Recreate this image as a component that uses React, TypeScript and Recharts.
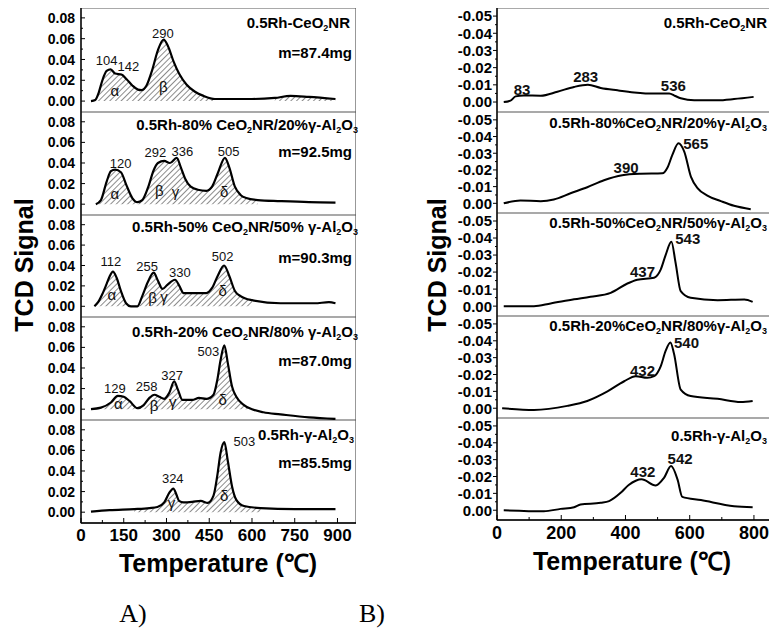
import React from 'react';
import { ComposedChart, Line, Area, XAxis, YAxis, ReferenceArea, ReferenceDot } from 'recharts';

const SANS = '"Liberation Sans", Arial, Helvetica, sans-serif';
const SERIF = '"Liberation Serif", "Times New Roman", serif';

// ---------- Panel A: temperature (°C) and TCD signal for each catalyst ----------
const aCeO2Temp = [35, 50, 62, 75, 90, 104, 120, 142, 160, 180, 200, 212, 230, 250, 270, 290, 305, 325, 345, 370, 400, 430, 470, 520, 600, 680, 735, 800, 893];
const aCeO2Signal = [0, 0.001, 0.008, 0.02, 0.029, 0.0305, 0.0265, 0.0255, 0.021, 0.015, 0.011, 0.0105, 0.015, 0.03, 0.049, 0.059, 0.053, 0.038, 0.026, 0.016, 0.009, 0.005, 0.002, 0.002, 0.002, 0.003, 0.005, 0.004, 0.002];

const a8020Temp = [52, 70, 90, 105, 120, 140, 160, 180, 198, 215, 235, 255, 270, 292, 312, 336, 350, 365, 385, 410, 440, 460, 480, 505, 520, 540, 560, 580, 620, 700, 800, 893];
const a8020Signal = [0, 0.004, 0.022, 0.032, 0.0335, 0.031, 0.018, 0.006, 0.002, 0.004, 0.016, 0.033, 0.04, 0.042, 0.04, 0.045, 0.036, 0.025, 0.017, 0.014, 0.013, 0.017, 0.03, 0.045, 0.036, 0.017, 0.009, 0.006, 0.004, 0.003, 0.002, 0.0016];

const a5050Temp = [47, 60, 75, 90, 100, 112, 125, 140, 158, 175, 198, 215, 235, 255, 270, 286, 303, 330, 345, 360, 400, 440, 460, 480, 502, 520, 540, 560, 600, 700, 820, 870, 893];
const a5050Signal = [0, 0.004, 0.012, 0.022, 0.029, 0.034, 0.028, 0.015, 0.003, 0, 0, 0.01, 0.024, 0.033, 0.025, 0.017, 0.021, 0.026, 0.02, 0.013, 0.013, 0.013, 0.018, 0.03, 0.04, 0.03, 0.015, 0.01, 0.006, 0.003, 0.003, 0.004, 0.003];

const a2080Temp = [35, 70, 105, 129, 150, 170, 198, 220, 240, 258, 275, 292, 310, 327, 340, 356, 390, 414, 440, 465, 478, 490, 503, 515, 530, 545, 572, 600, 640, 700, 800, 893];
const a2080Signal = [0, 0.0015, 0.0065, 0.013, 0.012, 0.008, 0.001, 0.004, 0.011, 0.014, 0.012, 0.01, 0.016, 0.027, 0.019, 0.009, 0.009, 0.011, 0.01, 0.014, 0.028, 0.048, 0.062, 0.045, 0.022, 0.012, 0.004, 0, -0.003, -0.005, -0.008, -0.0095];

const aAl2O3Temp = [35, 100, 187, 240, 268, 292, 310, 324, 335, 344, 360, 390, 420, 445, 465, 478, 490, 503, 515, 530, 545, 572, 630, 750, 893];
const aAl2O3Signal = [0.0005, 0.002, 0.003, 0.004, 0.005, 0.0095, 0.019, 0.023, 0.017, 0.011, 0.0095, 0.01, 0.011, 0.009, 0.016, 0.035, 0.058, 0.068, 0.05, 0.025, 0.012, 0.006, 0.004, 0.003, 0.003];

// hatched (deconvoluted) temperature windows
const aCeO2Hatch = [[35, 470], [680, 893]];
const a8020Hatch = [[52, 620]];
const a5050Hatch = [[47, 600]];
const a2080Hatch = [[35, 600]];
const aAl2O3Hatch = [[187, 630]];

type Note = { text: string; t: number; v: number };

// peak temperature labels
const aCeO2Peaks: Note[] = [{ text: '104', t: 90, v: 0.039 }, { text: '142', t: 166, v: 0.033 }, { text: '290', t: 287, v: 0.065 }];
const a8020Peaks: Note[] = [{ text: '120', t: 139, v: 0.0395 }, { text: '292', t: 261, v: 0.05 }, { text: '336', t: 356, v: 0.051 }, { text: '505', t: 518, v: 0.051 }];
const a5050Peaks: Note[] = [{ text: '112', t: 105, v: 0.044 }, { text: '255', t: 232, v: 0.039 }, { text: '330', t: 347, v: 0.033 }, { text: '502', t: 497, v: 0.049 }];
const a2080Peaks: Note[] = [{ text: '129', t: 119, v: 0.02 }, { text: '258', t: 230, v: 0.022 }, { text: '327', t: 320, v: 0.033 }, { text: '503', t: 447, v: 0.056 }];
const aAl2O3Peaks: Note[] = [{ text: '324', t: 322, v: 0.033 }, { text: '503', t: 573, v: 0.069 }];

// reduction-stage symbols
const aCeO2Phases: Note[] = [{ text: 'α', t: 119, v: 0.01 }, { text: 'β', t: 289, v: 0.014 }];
const a8020Phases: Note[] = [{ text: 'α', t: 119, v: 0.01 }, { text: 'β', t: 275, v: 0.013 }, { text: 'γ', t: 332, v: 0.012 }, { text: 'δ', t: 502, v: 0.012 }];
const a5050Phases: Note[] = [{ text: 'α', t: 108, v: 0.011 }, { text: 'β', t: 251, v: 0.009 }, { text: 'γ', t: 291, v: 0.0096 }, { text: 'δ', t: 497, v: 0.015 }];
const a2080Phases: Note[] = [{ text: 'α', t: 131, v: 0.005 }, { text: 'β', t: 256, v: 0.003 }, { text: 'γ', t: 322, v: 0.007 }, { text: 'δ', t: 497, v: 0.009 }];
const aAl2O3Phases: Note[] = [{ text: 'γ', t: 318, v: 0.0096 }, { text: 'δ', t: 502, v: 0.016 }];

// ---------- Panel B ----------
const bCeO2Temp = [21, 42, 58, 83, 136, 188, 240, 283, 323, 375, 427, 489, 536, 555, 572, 614, 687, 738, 799];
const bCeO2Signal = [0, -0.0008, -0.0033, -0.0038, -0.0037, -0.006, -0.0088, -0.01, -0.0082, -0.0068, -0.0056, -0.0049, -0.005, -0.0035, -0.0022, -0.001, -0.001, -0.0017, -0.003];

const b8020Temp = [21, 73, 136, 177, 229, 281, 333, 390, 447, 515, 531, 546, 565, 583, 604, 625, 655, 697, 738, 790];
const b8020Signal = [0, -0.0017, -0.0013, -0.0023, -0.006, -0.0096, -0.0138, -0.0168, -0.0177, -0.018, -0.0215, -0.029, -0.036, -0.031, -0.0158, -0.009, -0.0046, -0.0013, 0.0015, 0.0035];

const b5050Temp = [21, 115, 167, 240, 291, 354, 406, 437, 489, 510, 525, 543, 556, 572, 603, 687, 770, 796];
const b5050Signal = [0, 0, -0.0016, -0.004, -0.0055, -0.0078, -0.0133, -0.0155, -0.0167, -0.0216, -0.03, -0.0378, -0.0255, -0.0088, -0.0049, -0.0035, -0.0039, -0.0025];

const b2080Temp = [16, 115, 219, 281, 344, 396, 432, 468, 489, 510, 525, 540, 551, 572, 603, 687, 759, 796];
const b2080Signal = [0, 0.001, -0.0014, -0.0043, -0.01, -0.016, -0.019, -0.018, -0.019, -0.025, -0.034, -0.039, -0.0325, -0.011, -0.0072, -0.0056, -0.0037, -0.0043];

const bAl2O3Temp = [21, 146, 198, 240, 260, 323, 349, 385, 410, 432, 450, 494, 520, 542, 562, 577, 635, 738, 796];
const bAl2O3Signal = [0, 0.0006, -0.0008, -0.0018, -0.0034, -0.0044, -0.0054, -0.0103, -0.015, -0.0175, -0.0183, -0.0147, -0.0192, -0.0262, -0.0183, -0.0079, -0.006, -0.0024, -0.0018];

const bCeO2Peaks: Note[] = [{ text: '83', t: 78, v: -0.0071 }, { text: '283', t: 276, v: -0.0149 }, { text: '536', t: 549, v: -0.0095 }];
const b8020Peaks: Note[] = [{ text: '390', t: 402, v: -0.0215 }, { text: '565', t: 619, v: -0.036 }];
const b5050Peaks: Note[] = [{ text: '437', t: 453, v: -0.0202 }, { text: '543', t: 594, v: -0.0394 }];
const b2080Peaks: Note[] = [{ text: '432', t: 453, v: -0.0224 }, { text: '540', t: 590, v: -0.039 }];
const bAl2O3Peaks: Note[] = [{ text: '432', t: 454, v: -0.0228 }, { text: '542', t: 570, v: -0.0308 }];

// sample names ("_n" marks a subscript digit) and loaded masses
const sampleNames = ['0.5Rh-CeO_2NR', '0.5Rh-80% CeO_2NR/20%γ-Al_2O_3', '0.5Rh-50% CeO_2NR/50% γ-Al_2O_3', '0.5Rh-20% CeO_2NR/80% γ-Al_2O_3', '0.5Rh-γ-Al_2O_3'];
const sampleNamesB = ['0.5Rh-CeO_2NR', '0.5Rh-80%CeO_2NR/20%γ-Al_2O_3', '0.5Rh-50%CeO_2NR/50%γ-Al_2O_3', '0.5Rh-20%CeO_2NR/80%γ-Al_2O_3', '0.5Rh-γ-Al_2O_3'];
const sampleMasses = ['m=87.4mg', 'm=92.5mg', 'm=90.3mg', 'm=87.0mg', 'm=85.5mg'];

const aXTicks = [0, 75, 150, 225, 300, 375, 450, 525, 600, 675, 750, 825, 900];
const aYTicks = [0, 0.01, 0.02, 0.03, 0.04, 0.05, 0.06, 0.07, 0.08];
const bXTicks = [0, 100, 200, 300, 400, 500, 600, 700, 800];
const bYTicks = [0, -0.005, -0.01, -0.015, -0.02, -0.025, -0.03, -0.035, -0.04, -0.045, -0.05];

const seriesA = [
  { temp: aCeO2Temp, signal: aCeO2Signal, hatch: aCeO2Hatch, peaks: aCeO2Peaks, phases: aCeO2Phases },
  { temp: a8020Temp, signal: a8020Signal, hatch: a8020Hatch, peaks: a8020Peaks, phases: a8020Phases },
  { temp: a5050Temp, signal: a5050Signal, hatch: a5050Hatch, peaks: a5050Peaks, phases: a5050Phases },
  { temp: a2080Temp, signal: a2080Signal, hatch: a2080Hatch, peaks: a2080Peaks, phases: a2080Phases },
  { temp: aAl2O3Temp, signal: aAl2O3Signal, hatch: aAl2O3Hatch, peaks: aAl2O3Peaks, phases: aAl2O3Phases },
];
const seriesB = [
  { temp: bCeO2Temp, signal: bCeO2Signal, peaks: bCeO2Peaks },
  { temp: b8020Temp, signal: b8020Signal, peaks: b8020Peaks },
  { temp: b5050Temp, signal: b5050Signal, peaks: b5050Peaks },
  { temp: b2080Temp, signal: b2080Signal, peaks: b2080Peaks },
  { temp: bAl2O3Temp, signal: bAl2O3Signal, peaks: bAl2O3Peaks },
];

// ---------- layout ----------
const A_TOPS = [8, 112, 215, 317, 420, 523];
const A_LEFT = 81;
const A_W = 275;
const A_YW = 60;
const A_XH = 40;
const A_XDOM: [number, number] = [0, 965];
const A_YDOM: [number, number] = [-0.0105, 0.0895];
const A_NAME_RIGHT = [350, 358, 358, 358, 354];
const A_NAME_Y = [15, 13, 12, 15, 15];
const A_MASS_Y = [45, 40, 43, 44, 43];

const B_TOPS = [8, 112, 213, 316, 418, 520];
const B_LEFT = 497;
const B_W = 273;
const B_YW = 70;
const B_XH = 40;
const B_XDOM: [number, number] = [0, 850];
const B_YDOM: [number, number] = [-0.0547, 0.0058];
const B_NAME_Y = [15, 11, 10, 10, 18];

function RichName({ text }: { text: string }) {
  const parts = text.split(/_(\d)/);
  return (
    <>
      {parts.map((p, i) =>
        i % 2 === 1 ? (
          <sub key={i} style={{ fontSize: 9, verticalAlign: 'baseline', position: 'relative', top: 3 }}>{p}</sub>
        ) : (
          <span key={i}>{p}</span>
        )
      )}
    </>
  );
}

function TextTag({ right, cy, children, size = 15 }: any) {
  return (
    <div
      style={{
        position: 'absolute',
        right: 769 - right,
        top: cy - size / 2 - 1,
        fontFamily: SANS,
        fontWeight: 700,
        fontSize: size,
        lineHeight: `${size}px`,
        whiteSpace: 'nowrap',
        color: '#000',
      }}
    >
      {children}
    </div>
  );
}

function ATickX(props: any) {
  const { x, y, payload } = props;
  const major = payload.value % 150 === 0;
  return (
    <g>
      <line x1={x} x2={x} y1={y} y2={y - (major ? 5 : 3)} stroke="#000" strokeWidth={1} />
      {major && (
        <text x={x} y={y + 18} textAnchor="middle" fontSize={17} fontWeight={700} fontFamily={SANS} fill="#000">
          {payload.value}
        </text>
      )}
    </g>
  );
}

function ATickY(props: any) {
  const { x, y, payload } = props;
  const major = Math.round(payload.value * 100) % 2 === 0;
  return (
    <g>
      <line x1={x} x2={x + (major ? 4 : 2)} y1={y} y2={y} stroke="#000" strokeWidth={1} />
      {major && (
        <text x={x - 6} y={y} dy="0.36em" textAnchor="end" fontSize={14} fontWeight={700} fontFamily={SANS} fill="#000">
          {payload.value.toFixed(2)}
        </text>
      )}
    </g>
  );
}

function BTickX(props: any) {
  const { x, y, payload } = props;
  const major = payload.value % 200 === 0;
  return (
    <g>
      <line x1={x} x2={x} y1={y} y2={y - (major ? 5 : 3)} stroke="#000" strokeWidth={1} />
      {major && (
        <text x={x} y={y + 19} textAnchor="middle" fontSize={18} fontWeight={700} fontFamily={SANS} fill="#000">
          {payload.value}
        </text>
      )}
    </g>
  );
}

function BTickY(props: any) {
  const { x, y, payload } = props;
  const major = Math.round(Math.abs(payload.value) * 1000) % 10 === 0;
  return (
    <g>
      <line x1={x} x2={x - (major ? 4 : 2)} y1={y} y2={y} stroke="#000" strokeWidth={1} />
      {major && (
        <text x={x - 5} y={y} dy="0.36em" textAnchor="end" fontSize={15} fontWeight={700} fontFamily={SANS} fill="#000">
          {payload.value.toFixed(2)}
        </text>
      )}
    </g>
  );
}

function noteShape(n: Note, size: number, weight: number) {
  return (s: any) => (
    <text x={s.cx} y={s.cy} dy="0.36em" textAnchor="middle" fontSize={size} fontWeight={weight} fontFamily={SANS} fill="#111">
      {n.text}
    </text>
  );
}

function PanelA({ idx }: { idx: number }) {
  const s = seriesA[idx];
  const top = A_TOPS[idx];
  const h = A_TOPS[idx + 1] - top;
  const last = idx === seriesA.length - 1;
  const rows = s.temp.map((t, i) => ({
    t,
    v: s.signal[i],
    h: s.hatch.some(([a, b]) => t >= a && t <= b) ? s.signal[i] : null,
  }));
  return (
    <div style={{ position: 'absolute', left: A_LEFT - A_YW, top }}>
      <ComposedChart width={A_YW + A_W} height={h + (last ? A_XH : 0)} data={rows} margin={{ top: 0, right: 0, bottom: 0, left: 0 }}>
        <XAxis
          dataKey="t"
          type="number"
          domain={A_XDOM}
          allowDataOverflow
          hide={!last}
          height={A_XH}
          ticks={aXTicks}
          interval={0}
          tickSize={0}
          tickMargin={0}
          tickLine={false}
          tick={<ATickX />}
          axisLine={{ stroke: '#000', strokeWidth: 1.3 }}
        />
        <YAxis
          type="number"
          domain={A_YDOM}
          allowDataOverflow
          width={A_YW}
          ticks={aYTicks}
          interval={0}
          tickSize={0}
          tickMargin={0}
          tickLine={false}
          tick={<ATickY />}
          axisLine={{ stroke: '#000', strokeWidth: 1.3 }}
        />
        <ReferenceArea x1={A_XDOM[0]} x2={A_XDOM[1]} y1={A_YDOM[0]} y2={A_YDOM[1]} fill="none" stroke="#555" strokeWidth={1.2} />
        <Area dataKey="h" type="monotone" baseValue={0} fill="url(#hatchA)" fillOpacity={1} stroke="none" isAnimationActive={false} connectNulls={false} />
        <Line dataKey="v" type="monotone" stroke="#000" strokeWidth={2.2} dot={false} isAnimationActive={false} />
        {s.peaks.map((n, i) => (
          <ReferenceDot key={'p' + i} x={n.t} y={n.v} r={1} shape={noteShape(n, 13, 400)} />
        ))}
        {s.phases.map((n, i) => (
          <ReferenceDot key={'g' + i} x={n.t} y={n.v} r={1} shape={noteShape(n, 15, 400)} />
        ))}
      </ComposedChart>
    </div>
  );
}

function PanelB({ idx }: { idx: number }) {
  const s = seriesB[idx];
  const top = B_TOPS[idx];
  const h = B_TOPS[idx + 1] - top;
  const last = idx === seriesB.length - 1;
  const rows = s.temp.map((t, i) => ({ t, v: s.signal[i] }));
  return (
    <div style={{ position: 'absolute', left: B_LEFT - B_YW, top }}>
      <ComposedChart width={B_YW + B_W} height={h + (last ? B_XH : 0)} data={rows} margin={{ top: 0, right: 0, bottom: 0, left: 0 }}>
        <XAxis
          dataKey="t"
          type="number"
          domain={B_XDOM}
          allowDataOverflow
          hide={!last}
          height={B_XH}
          ticks={bXTicks}
          interval={0}
          tickSize={0}
          tickMargin={0}
          tickLine={false}
          tick={<BTickX />}
          axisLine={{ stroke: '#000', strokeWidth: 1.3 }}
        />
        <YAxis
          type="number"
          domain={B_YDOM}
          reversed
          allowDataOverflow
          width={B_YW}
          ticks={bYTicks}
          interval={0}
          tickSize={0}
          tickMargin={0}
          tickLine={false}
          tick={<BTickY />}
          axisLine={{ stroke: '#000', strokeWidth: 1.3 }}
        />
        <ReferenceArea x1={B_XDOM[0]} x2={B_XDOM[1]} y1={B_YDOM[0]} y2={B_YDOM[1]} fill="none" stroke="#555" strokeWidth={1.2} />
        <Line dataKey="v" type="monotone" stroke="#000" strokeWidth={2} dot={false} isAnimationActive={false} />
        {s.peaks.map((n, i) => (
          <ReferenceDot key={'p' + i} x={n.t} y={n.v} r={1} shape={noteShape(n, 15, 700)} />
        ))}
      </ComposedChart>
    </div>
  );
}

function Rotated({ cx, cy, children }: any) {
  return (
    <div
      style={{
        position: 'absolute',
        left: cx,
        top: cy,
        transform: 'translate(-50%, -50%) rotate(-90deg)',
        fontFamily: SANS,
        fontWeight: 700,
        fontSize: 25,
        whiteSpace: 'nowrap',
        lineHeight: '25px',
      }}
    >
      {children}
    </div>
  );
}

function Centered({ cx, cy, children, style }: any) {
  return (
    <div style={{ position: 'absolute', left: cx, top: cy, transform: 'translate(-50%, -50%)', whiteSpace: 'nowrap', ...style }}>
      {children}
    </div>
  );
}

export default function App() {
  return (
    <div style={{ position: 'absolute', left: 0, top: 0, width: 769, height: 631, overflow: 'hidden', background: '#fff' }}>
      <svg width={0} height={0} style={{ position: 'absolute' }}>
        <defs>
          <pattern id="hatchA" patternUnits="userSpaceOnUse" width={4} height={4} patternTransform="rotate(45)">
            <line x1={0} y1={0} x2={0} y2={4} stroke="#1a1a1a" strokeWidth={1} />
          </pattern>
        </defs>
      </svg>

      {seriesA.map((_, i) => (
        <PanelA key={'a' + i} idx={i} />
      ))}
      {seriesB.map((_, i) => (
        <PanelB key={'b' + i} idx={i} />
      ))}

      {sampleNames.map((n, i) => (
        <TextTag key={'an' + i} right={A_NAME_RIGHT[i]} cy={A_TOPS[i] + A_NAME_Y[i]}>
          <RichName text={n} />
        </TextTag>
      ))}
      {sampleMasses.map((m, i) => (
        <TextTag key={'am' + i} right={352} cy={A_TOPS[i] + A_MASS_Y[i]}>
          {m}
        </TextTag>
      ))}
      {sampleNamesB.map((n, i) => (
        <TextTag key={'bn' + i} right={767} cy={B_TOPS[i] + B_NAME_Y[i]}>
          <RichName text={n} />
        </TextTag>
      ))}

      <Rotated cx={24} cy={265}>TCD Signal</Rotated>
      <Rotated cx={437} cy={265}>TCD Signal</Rotated>

      <Centered cx={218} cy={562} style={{ fontFamily: SANS, fontWeight: 700, fontSize: 25 }}>
        Temperature (℃)
      </Centered>
      <Centered cx={632} cy={560} style={{ fontFamily: SANS, fontWeight: 700, fontSize: 25 }}>
        Temperature (℃)
      </Centered>

      <Centered cx={133} cy={614} style={{ fontFamily: SERIF, fontSize: 26 }}>
        A)
      </Centered>
      <Centered cx={372} cy={614} style={{ fontFamily: SERIF, fontSize: 26 }}>
        B)
      </Centered>
    </div>
  );
}
